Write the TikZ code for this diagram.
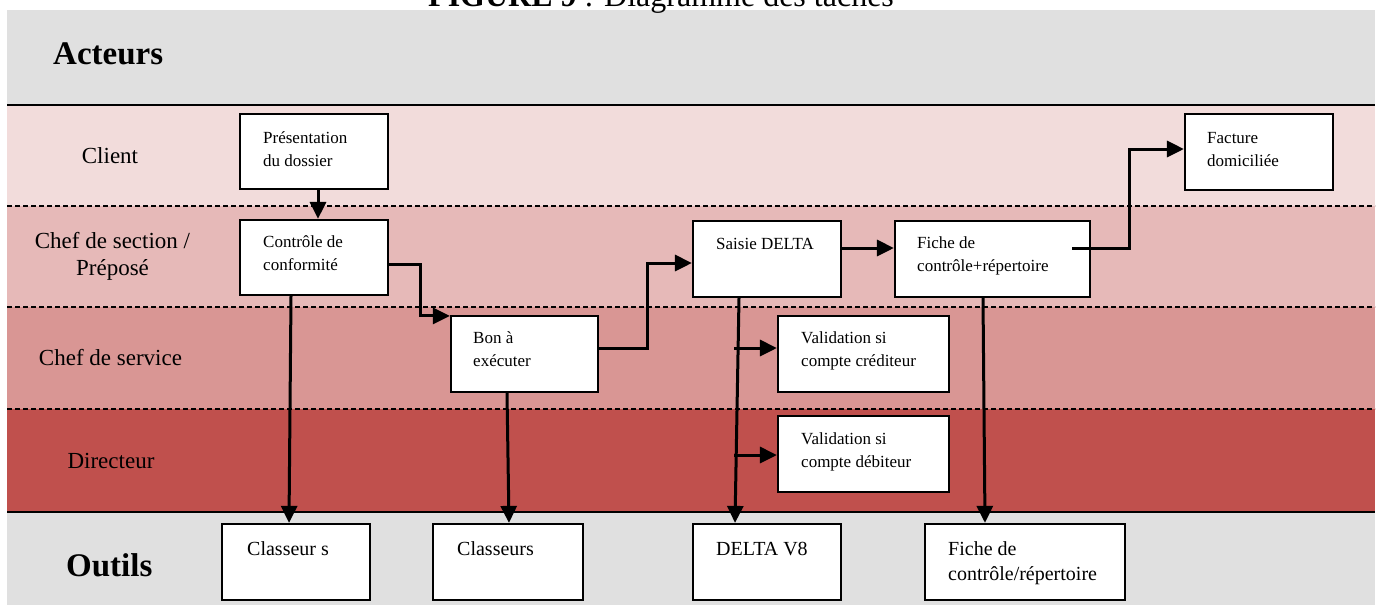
\documentclass[tikz,border=0pt]{standalone}
\usepackage{fontspec}
\setmainfont{Liberation Serif}
\usetikzlibrary{arrows.meta,calc}
\definecolor{hdr}{HTML}{E0E0E0}
\definecolor{laneA}{HTML}{F2DCDB}
\definecolor{laneB}{HTML}{E6B9B8}
\definecolor{laneC}{HTML}{D99694}
\definecolor{laneD}{HTML}{C0504D}
\begin{document}
\begin{tikzpicture}[x=1pt,y=-1pt,
 box/.style={draw=black,line width=2.2pt,fill=white,inner sep=0pt},
 btxt/.style={anchor=north west,inner sep=0pt,align=left,font=\fontsize{17}{23.5}\selectfont},
 ttxt/.style={anchor=north west,inner sep=0pt,align=left,font=\fontsize{20}{25.5}\selectfont},
 lanetxt/.style={inner sep=0pt,font=\fontsize{23}{27}\selectfont},
 bigtxt/.style={anchor=base west,inner sep=0pt,font=\fontsize{33}{40}\selectfont\bfseries},
 arr/.style={line width=3pt,-{Triangle[length=17pt,width=16pt]}},
 solidsep/.style={line width=2.5pt},
 dsep/.style={line width=1.6pt,dash pattern=on 5pt off 3pt}]
\useasboundingbox (0,0) rectangle (1381,605);
\fill[white] (0,0) rectangle (1381,605);
% lanes
\fill[hdr] (7,10) rectangle (1375,105);
\fill[laneA] (7,105) rectangle (1375,206);
\fill[laneB] (7,206) rectangle (1375,307);
\fill[laneC] (7,307) rectangle (1375,409);
\fill[laneD] (7,409) rectangle (1375,512);
\fill[hdr] (7,512) rectangle (1375,605);
\draw[solidsep] (7,105) -- (1375,105);
\draw[dsep] (7,206) -- (1375,206);
\draw[dsep] (7,307) -- (1375,307);
\draw[dsep] (7,409) -- (1375,409);
\draw[solidsep] (7,512) -- (1375,512);
% title
\node[anchor=base west,inner sep=0pt,font=\fontsize{32}{38}\selectfont] (title) at (428,6.5) {\textbf{FIGURE 9} : Diagramme des tâches};
% headers and lane labels
\node[bigtxt] (acteurs) at (53,64) {Acteurs};
\node[bigtxt] (outils) at (66,576) {Outils};
\node[lanetxt,anchor=base] (lclient) at (110,163) {Client};
\node[lanetxt,anchor=north,align=center] (lsec) at (112.5,229.1) {\strut Chef de section /\\Préposé};
\node[lanetxt,anchor=base] (lserv) at (110.5,365) {Chef de service};
\node[lanetxt,anchor=base] (ldir) at (111,468) {Directeur};
% task boxes
\node[box,minimum width=148pt,minimum height=75pt] (pres) at (314,151.5) {};
\node[box,minimum width=148pt,minimum height=75pt] (ctrl) at (314,257.5) {};
\node[box,minimum width=147pt,minimum height=76pt] (bon) at (524.5,354) {};
\node[box,minimum width=148pt,minimum height=76pt] (saisie) at (767,259) {};
\node[box,minimum width=195pt,minimum height=76pt] (fiche) at (992.5,259) {};
\node[box,minimum width=148pt,minimum height=76pt] (fact) at (1259,152) {};
\node[box,minimum width=171pt,minimum height=76pt] (vcred) at (863.5,354) {};
\node[box,minimum width=171pt,minimum height=76pt] (vdeb) at (863.5,454) {};
% tool boxes
\node[box,minimum width=148pt,minimum height=76pt] (t1) at (296,562) {};
\node[box,minimum width=150pt,minimum height=76pt] (t2) at (508,562) {};
\node[box,minimum width=148pt,minimum height=76pt] (t3) at (767,562) {};
\node[box,minimum width=200pt,minimum height=76pt] (t4) at (1025,562) {};
% box texts
\node[btxt] (pres-t) at (263,126.55) {\strut Présentation\\du dossier};
\node[btxt] (ctrl-t) at (263,230.55) {\strut Contrôle de\\conformité};
\node[btxt] (bon-t) at (473,326.55) {\strut Bon à\\exécuter};
\node[btxt] (saisie-t) at (716,232.55) {\strut Saisie DELTA};
\node[btxt] (fiche-t) at (917,231.55) {\strut Fiche de\\contrôle+répertoire};
\node[btxt] (fact-t) at (1207,126.55) {\strut Facture\\domiciliée};
\node[btxt] (vcred-t) at (801,326.55) {\strut Validation si\\compte créditeur};
\node[btxt] (vdeb-t) at (801,427.55) {\strut Validation si\\compte débiteur};
\node[ttxt] (t1-t) at (247,537.15) {\strut Classeur s};
\node[ttxt] (t2-t) at (457,537.15) {\strut Classeurs};
\node[ttxt] (t3-t) at (716,537.15) {\strut DELTA V8};
\node[ttxt] (t4-t) at (948,537.15) {\strut Fiche de\\contrôle/répertoire};
% connectors
\draw[arr] ([xshift=4pt]pres.south) -- ([xshift=4pt]ctrl.north);
\draw[arr] ([yshift=-6.5pt]ctrl.east) -- ++(31,0) |- ([yshift=-1pt]bon.north west);
\draw[arr] ([yshift=6pt]bon.east) -- ++(48,0) |- ([yshift=-4pt]saisie.west);
\draw[arr] ([yshift=11pt]saisie.east) -- ([yshift=11pt]fiche.west);
\draw[arr] ([xshift=79.5pt,yshift=11pt]fiche.center) -- ++(57,0) |- ([yshift=3pt]fact.west);
\draw[arr] ([xshift=-28pt]saisie.south) -- ([xshift=-32pt]t3.north);
\coordinate (b1) at (734,348);
\coordinate (b2) at (734,455);
\draw[arr] (b1) -- (b1 -| vcred.west);
\draw[arr] (b2) -- (b2 -| vdeb.west);
\draw[arr] ([xshift=-9.5pt]fiche.south) -- ([xshift=-40pt]t4.north);
\draw[arr] ([xshift=-23pt]ctrl.south) -- ([xshift=-7pt]t1.north);
\draw[arr] ([xshift=-17.5pt]bon.south) -- ([xshift=1pt]t2.north);
\end{tikzpicture}
\end{document}
